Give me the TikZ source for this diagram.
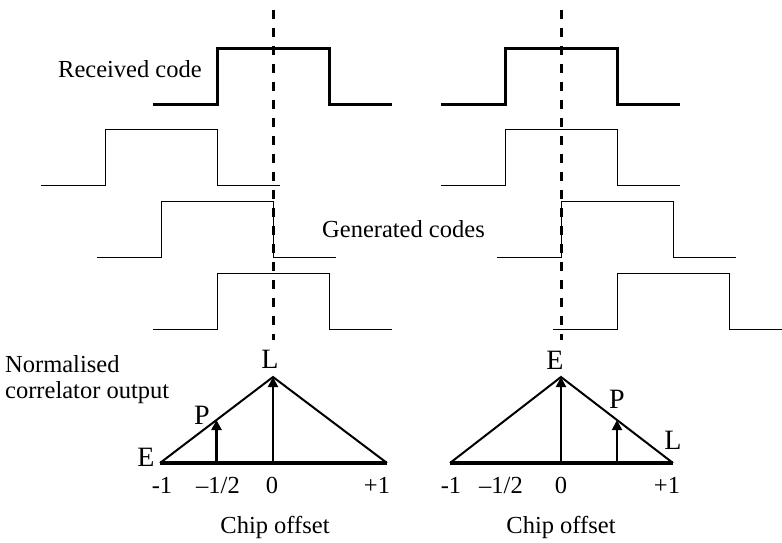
\documentclass[tikz,border=0pt]{standalone}
\usepackage{fontspec}
\setmainfont{Liberation Serif}
\usetikzlibrary{arrows.meta,calc}

\tikzset{
  rxcode/.style={line width=3pt},
  gencode/.style={line width=1pt},
  prompt/.style={line width=3pt, dash pattern=on 9pt off 9pt},
  corr/.style={line width=2pt, line join=miter},
  axisline/.style={line width=3.5pt},
  tap/.style={line width=2pt, -{Triangle[length=10pt,width=10pt]}},
  txt/.style={inner sep=0pt, anchor=base},
  tapname/.style={inner sep=0pt, anchor=base, font=\fontsize{28}{30}\selectfont},
}

\begin{document}
\begin{tikzpicture}[x=1pt,y=-1pt, font=\fontsize{24.5}{27}\selectfont]
\useasboundingbox (0,0) rectangle (782,542);

% received code, both cases
\foreach \r in {217,505} {
  \draw[rxcode] (\r-64,104) -- (\r,104) -- (\r,48) -- (\r+112,48) -- (\r+112,104) -- (\r+175,104);
}

% generated codes (early, prompt, late)
\foreach \r/\y in {105/185,161/257,217/329,505/185,561/257,617/329} {
  \draw[gencode] (\r-64,\y) -- (\r,\y) -- (\r,\y-56) -- (\r+112,\y-56) -- (\r+112,\y) -- (\r+175,\y);
}

% prompt lines
\draw[prompt] (273,10) -- (273,340);
\draw[prompt] (561,10) -- (561,340);

\node[txt, anchor=base west] (rxlabel) at (58,77) {Received code};
\node[txt, anchor=base west] (genlabel) at (322,237) {Generated codes};
\node[txt, anchor=base west] (ylabel1) at (5,372) {Normalised};
\node[txt, anchor=base west] (ylabel2) at (5,398) {correlator output};

% left correlator triangle
\coordinate (lE) at (160,463);
\coordinate (lpk) at (273,377);
\coordinate (lR) at (387,463);
\coordinate (lP) at ($(lE)!.5!(lpk)$);
\draw[corr] (lE) -- (lpk) -- (lR);
\draw[axisline] (lE) -- (lR);
\draw[tap, line width=3pt] (lP |- lE) -- (lP);
\draw[tap] (lpk |- lE) -- (lpk);

\node[tapname] (lEname) at (146,466) {E};
\node[tapname] (lPname) at (202,424) {P};
\node[tapname] (lLname) at (270,368) {L};

\node[txt] (lt1) at (162,493) {-1};
\node[txt] (lt2) at (218,493) {–1/2};
\node[txt] (lt3) at (272,493) {0};
\node[txt] (lt4) at (377,493) {+1};
\node[txt] (lchip) at (275,533) {Chip offset};

% right correlator triangle
\coordinate (rE) at (450,463);
\coordinate (rpk) at (561,377);
\coordinate (rR) at (673,463);
\coordinate (rP) at ($(rpk)!.5!(rR)$);
\draw[corr] (rE) -- (rpk) -- (rR);
\draw[axisline] (rE) -- (rR);
\draw[tap] (rpk |- rE) -- (rpk);
\draw[tap] (rP |- rE) -- (rP);

\node[tapname] (rEname) at (555,369) {E};
\node[tapname] (rPname) at (617,408) {P};
\node[tapname] (rLname) at (673,449) {L};

\node[txt] (rt1) at (451,493) {-1};
\node[txt] (rt2) at (501,493) {–1/2};
\node[txt] (rt3) at (561,493) {0};
\node[txt] (rt4) at (667,493) {+1};
\node[txt] (rchip) at (561,533) {Chip offset};

\end{tikzpicture}
\end{document}
